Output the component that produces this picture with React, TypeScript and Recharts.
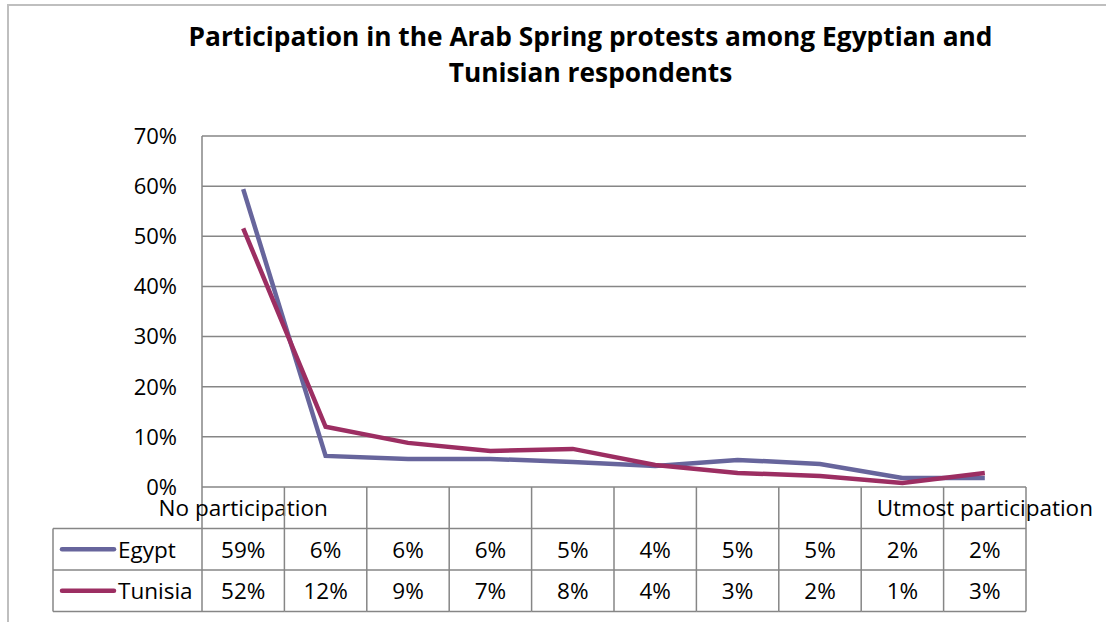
import { LineChart, Line, XAxis, YAxis, CartesianGrid } from "recharts";

const categories = ["1", "2", "3", "4", "5", "6", "7", "8", "9", "10"];
const headerLabels = ["No participation", "", "", "", "", "", "", "", "", "Utmost participation"];
const egypt = [59.4, 6.2, 5.6, 5.6, 5.0, 4.2, 5.4, 4.6, 1.8, 1.8];
const tunisia = [51.6, 12.0, 8.8, 7.2, 7.6, 4.4, 2.8, 2.2, 0.8, 2.8];
const yTicks = [0, 10, 20, 30, 40, 50, 60, 70];

const series = [
  { key: "egypt", name: "Egypt", color: "#67659c", values: egypt },
  { key: "tunisia", name: "Tunisia", color: "#9c2e62", values: tunisia },
];

const W = 1106;
const H = 622;
const MARGIN = { top: 136, right: 80, bottom: 8, left: 142 };
const Y_AXIS_W = 60;
const X_AXIS_H = 127;
const PLOT_W = W - MARGIN.left - Y_AXIS_W - MARGIN.right;
const BAND = PLOT_W / categories.length;
const ROW_H = 41.5;
const KEY_W = 149;
const FONT = "'Open Sans', sans-serif";
const GRID = "#868686";

const data = categories.map((c, i) => ({
  cat: c,
  egypt: egypt[i],
  tunisia: tunisia[i],
}));

// x axis tick draws one column of the data table (and the legend column for the first one)
function TableTick(props: any) {
  const { x, y, index } = props;
  const left = x - BAND / 2;
  const right = x + BAND / 2;
  const last = index === categories.length - 1;
  const textStyle = { fontFamily: FONT, fontSize: 22.5, fill: "#000" };
  return (
    <g>
      <line x1={left} y1={y} x2={left} y2={y + ROW_H * 3} stroke={GRID} strokeWidth={1.5} />
      {last && <line x1={right} y1={y} x2={right} y2={y + ROW_H * 3} stroke={GRID} strokeWidth={1.5} />}
      {[1, 2, 3].map((r) => (
        <line key={r} x1={left} y1={y + ROW_H * r} x2={right} y2={y + ROW_H * r} stroke={GRID} strokeWidth={1.5} />
      ))}
      {series.map((s, r) => (
        <text key={s.key} x={x} y={y + ROW_H * (r + 1.5)} textAnchor="middle" dominantBaseline="central" style={textStyle}>
          {Math.round(s.values[index])}%
        </text>
      ))}
      {index === 0 && (
        <g>
          <line x1={left - KEY_W} y1={y + ROW_H} x2={left - KEY_W} y2={y + ROW_H * 3} stroke={GRID} strokeWidth={1.5} />
          {[1, 2, 3].map((r) => (
            <line key={r} x1={left - KEY_W} y1={y + ROW_H * r} x2={left} y2={y + ROW_H * r} stroke={GRID} strokeWidth={1.5} />
          ))}
          {series.map((s, r) => (
            <g key={s.key}>
              <line
                x1={left - KEY_W + 9}
                y1={y + ROW_H * (r + 1.5)}
                x2={left - KEY_W + 61}
                y2={y + ROW_H * (r + 1.5)}
                stroke={s.color}
                strokeWidth={4.5}
                strokeLinecap="round"
              />
              <text x={left - KEY_W + 65} y={y + ROW_H * (r + 1.5)} dominantBaseline="central" style={textStyle}>
                {s.name}
              </text>
            </g>
          ))}
        </g>
      )}
      {headerLabels[index] && (
        <text x={x} y={y + ROW_H / 2} textAnchor="middle" dominantBaseline="central" style={textStyle}>
          {headerLabels[index]}
        </text>
      )}
    </g>
  );
}

export default function App() {
  return (
    <div style={{ position: "absolute", left: 0, top: 0, width: W, height: H, background: "#fff", overflow: "hidden" }}>
      <div
        style={{
          position: "absolute",
          left: 7,
          top: 4,
          width: W,
          height: H,
          borderLeft: "2px solid #bfbfbf",
          borderTop: "2px solid #bfbfbf",
        }}
      />
      <div
        style={{
          position: "absolute",
          left: 0,
          top: 18,
          width: 1181,
          textAlign: "center",
          fontFamily: FONT,
          fontWeight: 700,
          fontSize: 26.3,
          lineHeight: "36px",
          color: "#000",
        }}
      >
        Participation in the Arab Spring protests among Egyptian and
        <br />
        Tunisian respondents
      </div>
      <div style={{ position: "absolute", left: 0, top: 0 }}>
        <LineChart width={W} height={H} data={data} margin={MARGIN}>
          <CartesianGrid vertical={false} stroke={GRID} strokeWidth={1.5} />
          <XAxis
            dataKey="cat"
            interval={0}
            height={X_AXIS_H}
            axisLine={false}
            tickLine={false}
            tickSize={0}
            tickMargin={0}
            padding={{ left: BAND / 2, right: BAND / 2 }}
            tick={<TableTick />}
          />
          <YAxis
            width={Y_AXIS_W}
            domain={[0, 70]}
            ticks={yTicks}
            interval={0}
            axisLine={{ stroke: GRID, strokeWidth: 1.5 }}
            tickLine={false}
            tickSize={0}
            tickMargin={25}
            tick={{ fontFamily: FONT, fontSize: 22, fill: "#000" }}
            tickFormatter={(v) => `${v}%`}
          />
          {series.map((s) => (
            <Line
              key={s.key}
              type="linear"
              dataKey={s.key}
              name={s.name}
              stroke={s.color}
              strokeWidth={4.5}
              dot={false}
              activeDot={false}
              isAnimationActive={false}
            />
          ))}
        </LineChart>
      </div>
    </div>
  );
}
